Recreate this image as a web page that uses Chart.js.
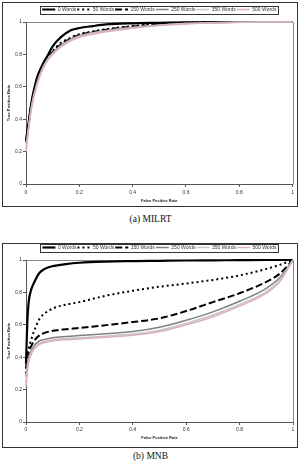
<!DOCTYPE html>
<html>
<head>
<meta charset="utf-8">
<script src="https://cdn.jsdelivr.net/npm/chart.js@4"></script>
<style>
    html, body { margin: 0; padding: 0; background: #fff; }
    body { width: 301px; height: 463px; position: relative; overflow: hidden; }
    .box { position: absolute; left: 2px; width: 296px; height: 205px; border: 1px solid #333; box-sizing: border-box; }
    .box canvas { display: block; }
    .cap { position: absolute; left: 0; width: 301px; text-align: center; font-family: "Liberation Serif", serif; font-size: 9.5px; font-weight: normal; color: #111; }
</style>
</head>
<body>
<div class="box" style="top:2px"><canvas id="chartA" width="294" height="203"></canvas></div>
<div class="cap" style="top:214px">(a) MILRT</div>
<div class="box" style="top:243px"><canvas id="chartB" width="294" height="203"></canvas></div>
<div class="cap" style="top:451px">(b) MNB</div>

<script>
// ─── DATA ────────────────────────────────────────────────────
const seriesLabels = ['0 Words', '50 Words', '150 Words', '250 Words', '350 Words', '500 Words'];
const tickValues   = [0, 0.2, 0.4, 0.6, 0.8, 1];

// (a) MILRT
const milrtFpr = [0, 0.01, 0.02, 0.04, 0.06, 0.08, 0.1, 0.13, 0.17, 0.2, 0.25, 0.3, 0.4, 0.5, 0.6, 0.7, 0.8, 0.9, 1];
const milrt0   = [0.27, 0.38, 0.5, 0.65, 0.73, 0.79, 0.85, 0.905, 0.95, 0.963, 0.975, 0.985, 0.992, 0.995, 0.998, 1, 1, 1, 1];
const milrt50  = [0.27, 0.38, 0.5, 0.64, 0.72, 0.78, 0.82, 0.87, 0.905, 0.925, 0.942, 0.955, 0.975, 0.988, 0.996, 0.999, 1, 1, 1];
const milrt150 = [0.26, 0.37, 0.49, 0.63, 0.715, 0.775, 0.815, 0.86, 0.9, 0.92, 0.938, 0.952, 0.972, 0.985, 0.994, 0.998, 1, 1, 1];
const milrt250 = [0.25, 0.36, 0.48, 0.62, 0.71, 0.77, 0.81, 0.855, 0.895, 0.915, 0.934, 0.948, 0.968, 0.982, 0.992, 0.997, 0.999, 1, 1];
const milrt350 = [0.22, 0.35, 0.47, 0.61, 0.705, 0.765, 0.805, 0.85, 0.89, 0.91, 0.93, 0.945, 0.965, 0.98, 0.99, 0.996, 0.999, 1, 1];
const milrt500 = [0.2, 0.34, 0.46, 0.605, 0.7, 0.76, 0.8, 0.845, 0.885, 0.905, 0.925, 0.94, 0.962, 0.978, 0.988, 0.995, 0.998, 1, 1];

// (b) MNB
const mnbFpr = [0, 0.005, 0.01, 0.02, 0.03, 0.05, 0.07, 0.1, 0.15, 0.2, 0.3, 0.4, 0.5, 0.6, 0.7, 0.8, 0.9, 0.95, 1];
const mnb0   = [0.36, 0.62, 0.74, 0.82, 0.86, 0.92, 0.945, 0.962, 0.975, 0.983, 0.99, 0.993, 0.995, 0.997, 0.998, 0.999, 1, 1, 1];
const mnb50  = [0.3, 0.4, 0.45, 0.51, 0.56, 0.635, 0.67, 0.7, 0.725, 0.74, 0.78, 0.81, 0.835, 0.855, 0.877, 0.905, 0.945, 0.97, 1];
const mnb150 = [0.33, 0.4, 0.43, 0.47, 0.5, 0.535, 0.55, 0.563, 0.573, 0.58, 0.598, 0.617, 0.64, 0.685, 0.74, 0.795, 0.865, 0.915, 1];
const mnb250 = [0.28, 0.36, 0.4, 0.44, 0.47, 0.5, 0.51, 0.52, 0.528, 0.534, 0.545, 0.558, 0.585, 0.628, 0.68, 0.745, 0.825, 0.89, 1];
const mnb350 = [0.24, 0.33, 0.38, 0.43, 0.455, 0.485, 0.497, 0.507, 0.515, 0.52, 0.53, 0.543, 0.567, 0.61, 0.66, 0.725, 0.805, 0.875, 1];
const mnb500 = [0.22, 0.31, 0.37, 0.42, 0.45, 0.478, 0.49, 0.5, 0.508, 0.513, 0.523, 0.535, 0.558, 0.6, 0.65, 0.715, 0.795, 0.865, 1];

// ─── STYLE ───────────────────────────────────────────────────
const lineColors = ['#000000', '#000000', '#000000', '#808080', '#c8c8c8', '#dab0b5'];
const lineWidths = [2.2, 2, 2, 1.5, 1.5, 1.5];
const lineDashes = [[], [2, 3], [7, 3], [], [], []];
const FONT = 'Liberation Sans';

// plot frame (gray top/right) + border round the legend
const framePlugin = {
    id: 'frame',
    beforeDatasetsDraw(chart) {
        const a = chart.chartArea, ctx = chart.ctx;
        ctx.save();
        ctx.strokeStyle = '#8a8a8a';
        ctx.lineWidth = 1;
        ctx.beginPath();
        ctx.moveTo(Math.round(a.left) + 0.5, Math.round(a.top) + 0.5);
        ctx.lineTo(Math.round(a.right) + 0.5, Math.round(a.top) + 0.5);
        ctx.lineTo(Math.round(a.right) + 0.5, Math.round(a.bottom) + 0.5);
        ctx.stroke();
        ctx.restore();
    },
    afterDraw(chart) {
        const hb = chart.legend.legendHitBoxes;
        if (!hb || !hb.length) return;
        const l = Math.min(...hb.map(h => h.left)) - 2;
        const r = Math.max(...hb.map(h => h.left + h.width)) + 2;
        const t = hb[0].top - 1.5;
        const b = hb[0].top + hb[0].height + 1.5;
        const ctx = chart.ctx;
        ctx.save();
        ctx.strokeStyle = '#333';
        ctx.lineWidth = 1;
        ctx.strokeRect(Math.round(l) + 0.5, Math.round(t) + 0.5, Math.round(r - l), Math.round(b - t));
        ctx.restore();
    }
};

// legend samples keep each line's dash and width
function legendLabels(chart) {
    return Chart.defaults.plugins.legend.labels.generateLabels(chart).map(item => {
        const i = item.datasetIndex;
        item.lineDash = lineDashes[i];
        item.lineWidth = lineWidths[i];
        item.strokeStyle = lineColors[i];
        item.pointStyle = 'line';
        return item;
    });
}

// ─── CHARTS ──────────────────────────────────────────────────
function buildChart(id, fpr, series, lay) {
    return new Chart(document.getElementById(id), {
        type: 'line',
        data: {
            datasets: series.map((tpr, i) => ({
                label: seriesLabels[i],
                data: fpr.map((x, j) => ({ x: x, y: tpr[j] })),
                borderColor: lineColors[i],
                backgroundColor: lineColors[i],
                borderWidth: lineWidths[i],
                borderDash: lineDashes[i],
                pointRadius: 0,
                fill: false,
                cubicInterpolationMode: 'monotone',
                clip: 4,
                order: series.length - i
            }))
        },
        options: {
            responsive: false,
            animation: false,
            devicePixelRatio: 1,
            layout: { padding: { top: lay.top, right: 4, bottom: 0, left: 0 } },
            plugins: {
                legend: {
                    position: 'top',
                    fullSize: false,
                    labels: {
                        usePointStyle: true,
                        pointStyle: 'line',
                        pointStyleWidth: 13,
                        boxHeight: 5,
                        padding: 1,
                        color: '#333',
                        font: { family: FONT, size: 5 },
                        generateLabels: legendLabels,
                        sort: (a, b) => a.datasetIndex - b.datasetIndex
                    }
                },
                tooltip: { enabled: false }
            },
            scales: {
                x: {
                    type: 'linear', min: 0, max: 1,
                    afterBuildTicks: s => { s.ticks = tickValues.map(v => ({ value: v })); },
                    afterFit: s => { s.height = lay.xh; },
                    ticks: { color: '#333', font: { family: FONT, size: 5 }, padding: lay.xpad, maxRotation: 0,
                             callback: v => String(v) },
                    grid: { drawOnChartArea: false, tickLength: 3, color: '#555' },
                    border: { color: '#555' },
                    title: { display: true, text: 'False Positive Rate', color: '#222',
                             font: { family: FONT, size: 4, weight: 'bold' }, padding: { top: 0, bottom: lay.tpad } }
                },
                y: {
                    type: 'linear', min: 0, max: 1,
                    afterBuildTicks: s => { s.ticks = tickValues.map(v => ({ value: v })); },
                    afterFit: s => { s.width = 23; },
                    ticks: { color: '#333', font: { family: FONT, size: 5 }, padding: 1,
                             callback: v => String(v) },
                    grid: { drawOnChartArea: false, tickLength: 3, color: '#555' },
                    border: { color: '#555' },
                    title: { display: true, text: 'True Positive Rate', color: '#222',
                             font: { family: FONT, size: 4.2, weight: 'bold' }, padding: { top: 3.5, bottom: 0 } }
                }
            }
        },
        plugins: [framePlugin]
    });
}

buildChart('chartA', milrtFpr, [milrt0, milrt50, milrt150, milrt250, milrt350, milrt500],
           { top: 3, xh: 22, xpad: 3, tpad: 2.6 });
buildChart('chartB', mnbFpr, [mnb0, mnb50, mnb150, mnb250, mnb350, mnb500],
           { top: 0, xh: 25, xpad: 2, tpad: 6.5 });
</script>
</body>
</html>
